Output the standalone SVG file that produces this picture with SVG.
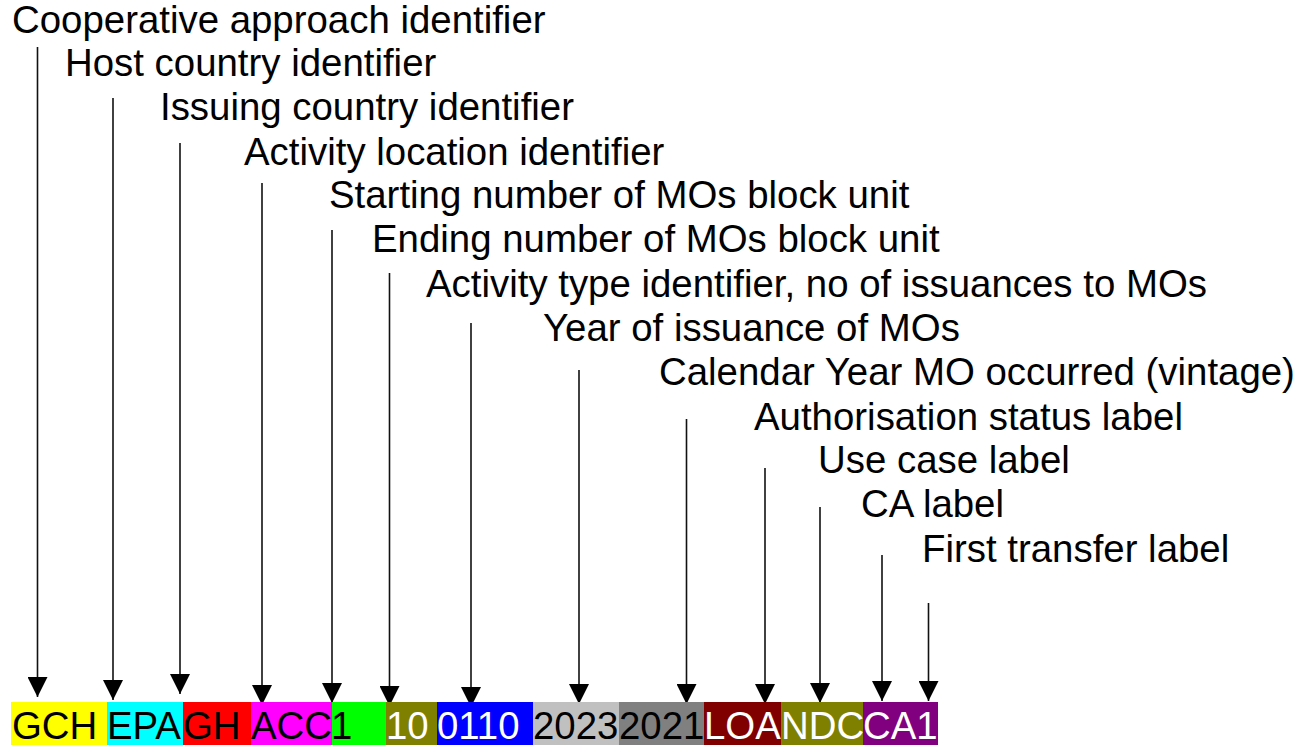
<svg xmlns="http://www.w3.org/2000/svg" width="1313" height="745" viewBox="0 0 1313 745">
<defs>
<style>
.lbl{font-family:"Liberation Sans",Arial,sans-serif;font-size:38.4px;fill:#000}
.seg{font-family:"Liberation Sans",Arial,sans-serif;font-size:38.4px}
.dk{fill:#000}
.wt{fill:#fff}
.conn line{stroke:#111;stroke-width:1.6;marker-end:url(#ah)}
</style>
<marker id="ah" markerUnits="userSpaceOnUse" markerWidth="20" markerHeight="20" viewBox="0 0 20 20" refX="20" refY="10" orient="auto">
<path d="M0,0 L20,10 L0,20 z" fill="#000"/>
</marker>
</defs>
<rect width="1313" height="745" fill="#fff"/>
<g id="labels">
<text id="l1" class="lbl" x="12" y="33">Cooperative approach identifier</text>
<text id="l2" class="lbl" x="65" y="76">Host country identifier</text>
<text id="l3" class="lbl" x="160" y="120">Issuing country identifier</text>
<text id="l4" class="lbl" x="244" y="165">Activity location identifier</text>
<text id="l5" class="lbl" x="329" y="208">Starting number of MOs block unit</text>
<text id="l6" class="lbl" x="372" y="252">Ending number of MOs block unit</text>
<text id="l7" class="lbl" x="426" y="297">Activity type identifier, no of issuances to MOs</text>
<text id="l8" class="lbl" x="543" y="341">Year of issuance of MOs</text>
<text id="l9" class="lbl" x="659" y="385">Calendar Year MO occurred (vintage)</text>
<text id="l10" class="lbl" x="754" y="430">Authorisation status label</text>
<text id="l11" class="lbl" x="818" y="473">Use case label</text>
<text id="l12" class="lbl" x="861" y="517">CA label</text>
<text id="l13" class="lbl" x="922" y="562">First transfer label</text>
</g>
<g id="connectors" class="conn">
<line x1="37.5" y1="47" x2="37.5" y2="697"/>
<line x1="113" y1="98" x2="113" y2="700"/>
<line x1="180" y1="143" x2="180" y2="694"/>
<line x1="262" y1="183" x2="262" y2="705"/>
<line x1="332" y1="230" x2="332" y2="703"/>
<line x1="389.5" y1="273" x2="389.5" y2="706"/>
<line x1="471" y1="323" x2="471" y2="707"/>
<line x1="579" y1="370" x2="579" y2="704"/>
<line x1="686.5" y1="419" x2="686.5" y2="704"/>
<line x1="765" y1="468" x2="765" y2="704"/>
<line x1="820" y1="507" x2="820" y2="703"/>
<line x1="882" y1="555" x2="882" y2="701"/>
<line x1="928.5" y1="603" x2="928.5" y2="701"/>
</g>
<g id="code">
<g id="s-gch"><rect x="11" y="702" width="96" height="43" fill="#ffff00"/><text class="seg dk" x="12" y="739">GCH</text></g>
<g id="s-epa"><rect x="107" y="702" width="76" height="43" fill="#00ffff"/><text class="seg dk" x="107" y="739">EPA</text></g>
<g id="s-gh"><rect x="183" y="702" width="68" height="43" fill="#ff0000"/><text class="seg dk" x="183" y="739">GH</text></g>
<g id="s-acc"><rect x="251" y="702" width="81" height="43" fill="#ff00ff"/><text class="seg dk" x="251" y="739">ACC</text></g>
<g id="s-1"><rect x="332" y="702" width="54" height="43" fill="#00ff00"/><text class="seg dk" x="331" y="739">1</text></g>
<g id="s-10"><rect x="386" y="702" width="51" height="43" fill="#808000"/><text class="seg wt" x="386" y="739">10</text></g>
<g id="s-0110"><rect x="437" y="702" width="96" height="43" fill="#0000ff"/><text class="seg wt" x="437" y="739">0110</text></g>
<g id="s-2023"><rect x="533" y="702" width="86" height="43" fill="#c0c0c0"/><text class="seg dk" x="533" y="739">2023</text></g>
<g id="s-2021"><rect x="619" y="702" width="85" height="43" fill="#808080"/><text class="seg dk" x="619" y="739">2021</text></g>
<g id="s-loa"><rect x="704" y="702" width="77" height="43" fill="#800000"/><text class="seg wt" x="704" y="739">LOA</text></g>
<g id="s-ndc"><rect x="781" y="702" width="82" height="43" fill="#808000"/><text class="seg wt" x="781" y="739">NDC</text></g>
<g id="s-ca1"><rect x="863" y="702" width="75" height="43" fill="#800080"/><text class="seg wt" x="863" y="739">CA1</text></g>
</g>
</svg>
